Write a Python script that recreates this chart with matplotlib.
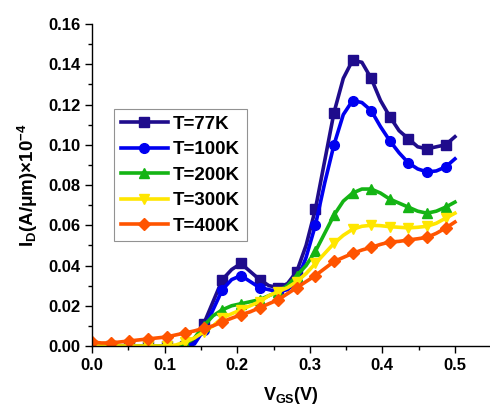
import matplotlib
matplotlib.use('Agg')
import matplotlib.pyplot as plt
import numpy as np
from matplotlib.ticker import MultipleLocator

plt.rcParams['font.family'] = ['Liberation Sans', 'DejaVu Sans']
plt.rcParams['font.weight'] = 'bold'
plt.rcParams['mathtext.fontset'] = 'custom'
plt.rcParams['mathtext.rm'] = 'Liberation Sans:bold'
plt.rcParams['mathtext.it'] = 'Liberation Sans:bold'
plt.rcParams['mathtext.bf'] = 'Liberation Sans:bold'

# gate voltage grid (V), 40 samples from 0 to 0.5
vgs = np.linspace(0, 0.5, 40)

id_77k = [0.0, 0.0, 0.0, 0.0, 0.0, 0.0, 0.0, 0.0, 0.0, 0.0,
          0.0, 0.002, 0.011, 0.022, 0.033, 0.038, 0.041, 0.037, 0.033, 0.030,
          0.029, 0.031, 0.037, 0.050, 0.068, 0.092, 0.116, 0.133, 0.142, 0.141,
          0.133, 0.122, 0.114, 0.107, 0.103, 0.099, 0.098, 0.099, 0.100, 0.104]
id_100k = [0.0, 0.0, 0.0, 0.0, 0.0, 0.0, 0.0, 0.0, 0.0, 0.0,
           0.0, 0.001, 0.008, 0.018, 0.028, 0.033, 0.035, 0.032, 0.029, 0.028,
           0.027, 0.028, 0.032, 0.044, 0.060, 0.081, 0.100, 0.115, 0.122, 0.121,
           0.117, 0.109, 0.102, 0.096, 0.091, 0.088, 0.0865, 0.087, 0.089, 0.093]
id_200k = [0.0, 0.0, 0.0, 0.0, 0.0, 0.0, 0.0, 0.0, 0.0, 0.0,
           0.001, 0.004, 0.010, 0.015, 0.018, 0.020, 0.021, 0.022, 0.023, 0.025,
           0.027, 0.030, 0.035, 0.040, 0.047, 0.056, 0.065, 0.072, 0.076, 0.078,
           0.078, 0.076, 0.073, 0.071, 0.069, 0.067, 0.066, 0.067, 0.069, 0.0715]
id_300k = [0.0, 0.0, 0.0, 0.0, 0.0, 0.0, 0.0, 0.0, 0.0, 0.0005,
           0.002, 0.004, 0.007, 0.010, 0.014, 0.016, 0.018, 0.020, 0.022, 0.025,
           0.027, 0.029, 0.032, 0.036, 0.041, 0.046, 0.051, 0.055, 0.058, 0.0595,
           0.060, 0.0598, 0.0593, 0.059, 0.0587, 0.059, 0.0595, 0.061, 0.0635, 0.066]
id_400k = [0.002, 0.0015, 0.0015, 0.002, 0.0025, 0.003, 0.0035, 0.004, 0.0045, 0.0055,
           0.0065, 0.0075, 0.0088, 0.010, 0.012, 0.0138, 0.0155, 0.017, 0.019, 0.021,
           0.023, 0.026, 0.029, 0.032, 0.035, 0.0385, 0.042, 0.044, 0.046, 0.0477,
           0.049, 0.0505, 0.0517, 0.052, 0.0527, 0.0533, 0.054, 0.056, 0.0586, 0.0616]

labels = ['T=77K', 'T=100K', 'T=200K', 'T=300K', 'T=400K']
series = [id_77k, id_100k, id_200k, id_300k, id_400k]
colors = ['#1f0c8c', '#0000f0', '#14b414', '#ffe600', '#ff5400']
markers = ['s', 'o', '^', 'v', 'D']
msizes = [6.5, 7, 7.5, 7.5, 6.5]

fig = plt.figure(figsize=(4.9, 4.08), dpi=100)
ax = fig.add_axes([0.188, 0.152, 0.81, 0.789])

for y, lab, c, m, ms in zip(series, labels, colors, markers, msizes):
    ax.plot(vgs, y, color=c, marker=m, markersize=ms, markevery=2,
            linewidth=2.6, label=lab)

ax.set_xlim(0, 0.547)
ax.set_ylim(0, 0.16)
ax.xaxis.set_major_locator(MultipleLocator(0.1))
ax.xaxis.set_minor_locator(MultipleLocator(0.05))
ax.yaxis.set_major_locator(MultipleLocator(0.02))
ax.yaxis.set_minor_locator(MultipleLocator(0.01))
ax.xaxis.set_major_formatter(plt.FuncFormatter(lambda v, _: f'{v:.1f}'))
ax.yaxis.set_major_formatter(plt.FuncFormatter(lambda v, _: f'{v:.2f}'))

for s in ['top', 'right']:
    ax.spines[s].set_visible(False)
for s in ['left', 'bottom']:
    ax.spines[s].set_linewidth(1.0)

ax.tick_params(which='major', direction='out', length=5, width=1, labelsize=12)
ax.tick_params(which='minor', direction='out', length=3, width=1)
for lbl in ax.get_xticklabels() + ax.get_yticklabels():
    lbl.set_fontweight('bold')

ax.set_xlabel(r'V$_{\mathrm{GS}}$(V)', fontsize=13, fontweight='bold', labelpad=9)
ax.set_ylabel(r'I$_{\mathrm{D}}$(A/μm)×10$^{\mathbf{-4}}$', fontsize=13.5,
              fontweight='bold', labelpad=6)

leg = ax.legend(loc='upper left', bbox_to_anchor=(0.233, 0.733),
                bbox_transform=fig.transFigure,
                prop={'weight': 'bold', 'size': 13.5},
                frameon=True, fancybox=False, edgecolor='#777777',
                handlelength=2.5, handletextpad=0.3, labelspacing=0.45,
                borderpad=0.35, borderaxespad=0)
leg.get_frame().set_linewidth(0.8)

plt.savefig('out.png', dpi=100)
